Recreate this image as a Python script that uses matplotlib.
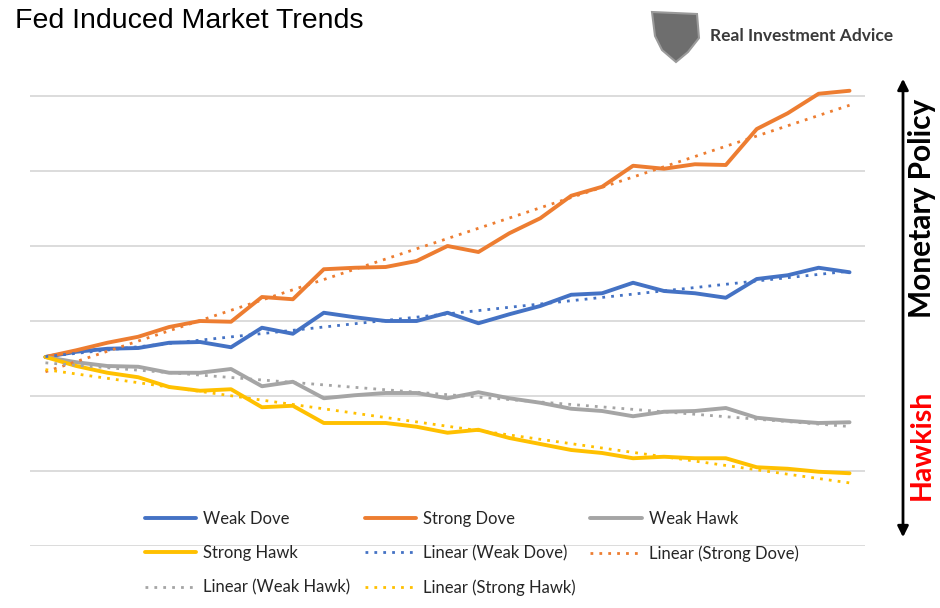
import numpy as np
import matplotlib
matplotlib.use("Agg")
import matplotlib.pyplot as plt
from matplotlib.patches import FancyArrowPatch, Polygon

plt.rcParams['font.family'] = ['Lato', 'DejaVu Sans']

# ---- data (arbitrary index units) ----
periods = list(range(1, 28))
weak_dove = [25.2, 25.9, 26.3, 26.4, 27.1, 27.2, 26.5, 29.1, 28.3, 31.1, 30.5, 30.0, 30.0, 31.1,
             29.7, 30.9, 32.0, 33.5, 33.7, 35.1, 34.0, 33.7, 33.1, 35.6, 36.1, 37.1, 36.5]
strong_dove = [25.2, 26.1, 27.1, 27.9, 29.2, 30.0, 29.9, 33.2, 32.9, 36.9, 37.1, 37.2, 38.0, 40.0,
               39.2, 41.7, 43.7, 46.7, 47.9, 50.7, 50.3, 50.9, 50.8, 55.6, 57.7, 60.3, 60.7]
weak_hawk = [25.2, 24.5, 24.0, 23.9, 23.1, 23.1, 23.6, 21.3, 21.9, 19.7, 20.1, 20.4, 20.4, 19.7,
             20.5, 19.7, 19.1, 18.3, 18.0, 17.3, 17.9, 18.0, 18.4, 17.1, 16.7, 16.4, 16.5]
strong_hawk = [25.2, 24.0, 23.1, 22.5, 21.2, 20.7, 20.9, 18.5, 18.7, 16.4, 16.4, 16.4, 15.9, 15.1,
               15.5, 14.4, 13.6, 12.8, 12.4, 11.7, 11.9, 11.7, 11.7, 10.5, 10.3, 9.9, 9.7]
series_names = ["Weak Dove", "Strong Dove", "Weak Hawk", "Strong Hawk"]
series_colors = ["#4472C4", "#ED7D31", "#A5A5A5", "#FFC000"]

W, H = 940, 608
fig = plt.figure(figsize=(W / 100, H / 100), dpi=100)
ax = fig.add_axes([30 / W, (H - 546) / H, 835 / W, (546 - 81) / H])

x = np.arange(len(periods))
data = [weak_dove, strong_dove, weak_hawk, strong_hawk]
handles = {}
for name, vals, c in zip(series_names, data, series_colors):
    h, = ax.plot(x, vals, color=c, lw=2.8, solid_joinstyle='round', solid_capstyle='round', zorder=3)
    handles[name] = h
for name, vals, c in zip(series_names, data, series_colors):
    k, b = np.polyfit(x, vals, 1)
    h, = ax.plot(x, k * x + b, color=c, lw=2.0, linestyle=(0, (1, 2.2)), zorder=4)
    handles["Linear (%s)" % name] = h

ax.set_xlim(-0.5, len(periods) - 0.5)
ax.set_ylim(0, 62)
ax.set_yticks(np.arange(0, 61, 10))
ax.grid(axis='y', color='#D9D9D9', lw=1.3)
ax.set_axisbelow(True)
ax.tick_params(left=False, bottom=False, labelleft=False, labelbottom=False)
for s in ax.spines.values():
    s.set_visible(False)

order = ["Weak Dove", "Strong Hawk", "Linear (Weak Hawk)",
         "Strong Dove", "Linear (Weak Dove)", "Linear (Strong Hawk)",
         "Weak Hawk", "Linear (Strong Dove)"]
leg = fig.legend([handles[n] for n in order], order, ncol=3, frameon=False,
                 loc='upper left', bbox_to_anchor=(138 / W, 1 - 504 / H),
                 fontsize=12, handlelength=3.1, handletextpad=0.42,
                 columnspacing=0.85, labelspacing=1.1, borderaxespad=0)
for t in leg.get_texts():
    t.set_color('#262626')

fig.text(15 / W, 1 - 21 / H, "Fed Induced Market Trends", fontsize=20.5,
         family=['Liberation Sans', 'DejaVu Sans'], va='center', ha='left', color='#000000')

# logo
pts = np.array([(652, 12), (697, 14), (699, 38), (688, 52), (676, 62), (662, 50), (655, 36)], float)
pts[:, 1] = H - pts[:, 1]
pts[:, 0] /= W
pts[:, 1] /= H
fig.add_artist(Polygon(pts, closed=True, transform=fig.transFigure, facecolor='#6E6E6E',
                       edgecolor='#9A9A9A', lw=1.5))
fig.text(710 / W, 1 - 36 / H, "Real Investment Advice", fontsize=12.5, fontweight='bold',
         color='#3A3A3A', va='center', ha='left')

# right side arrow & labels
arr = FancyArrowPatch((903 / W, 1 - 540 / H), (903 / W, 1 - 76 / H), transform=fig.transFigure,
                      arrowstyle='<|-|>', mutation_scale=16, lw=2, color='black')
fig.add_artist(arr)
fig.text(922 / W, 1 - 208 / H, "Monetary Policy", rotation=90, fontsize=21.5, fontweight='bold',
         color='black', va='center', ha='center')
fig.text(922 / W, 1 - 445 / H, "Hawkish", rotation=90, fontsize=20.5, fontweight='bold',
         color='#FF0000', va='center', ha='center')

fig.savefig("out.png", dpi=100)
